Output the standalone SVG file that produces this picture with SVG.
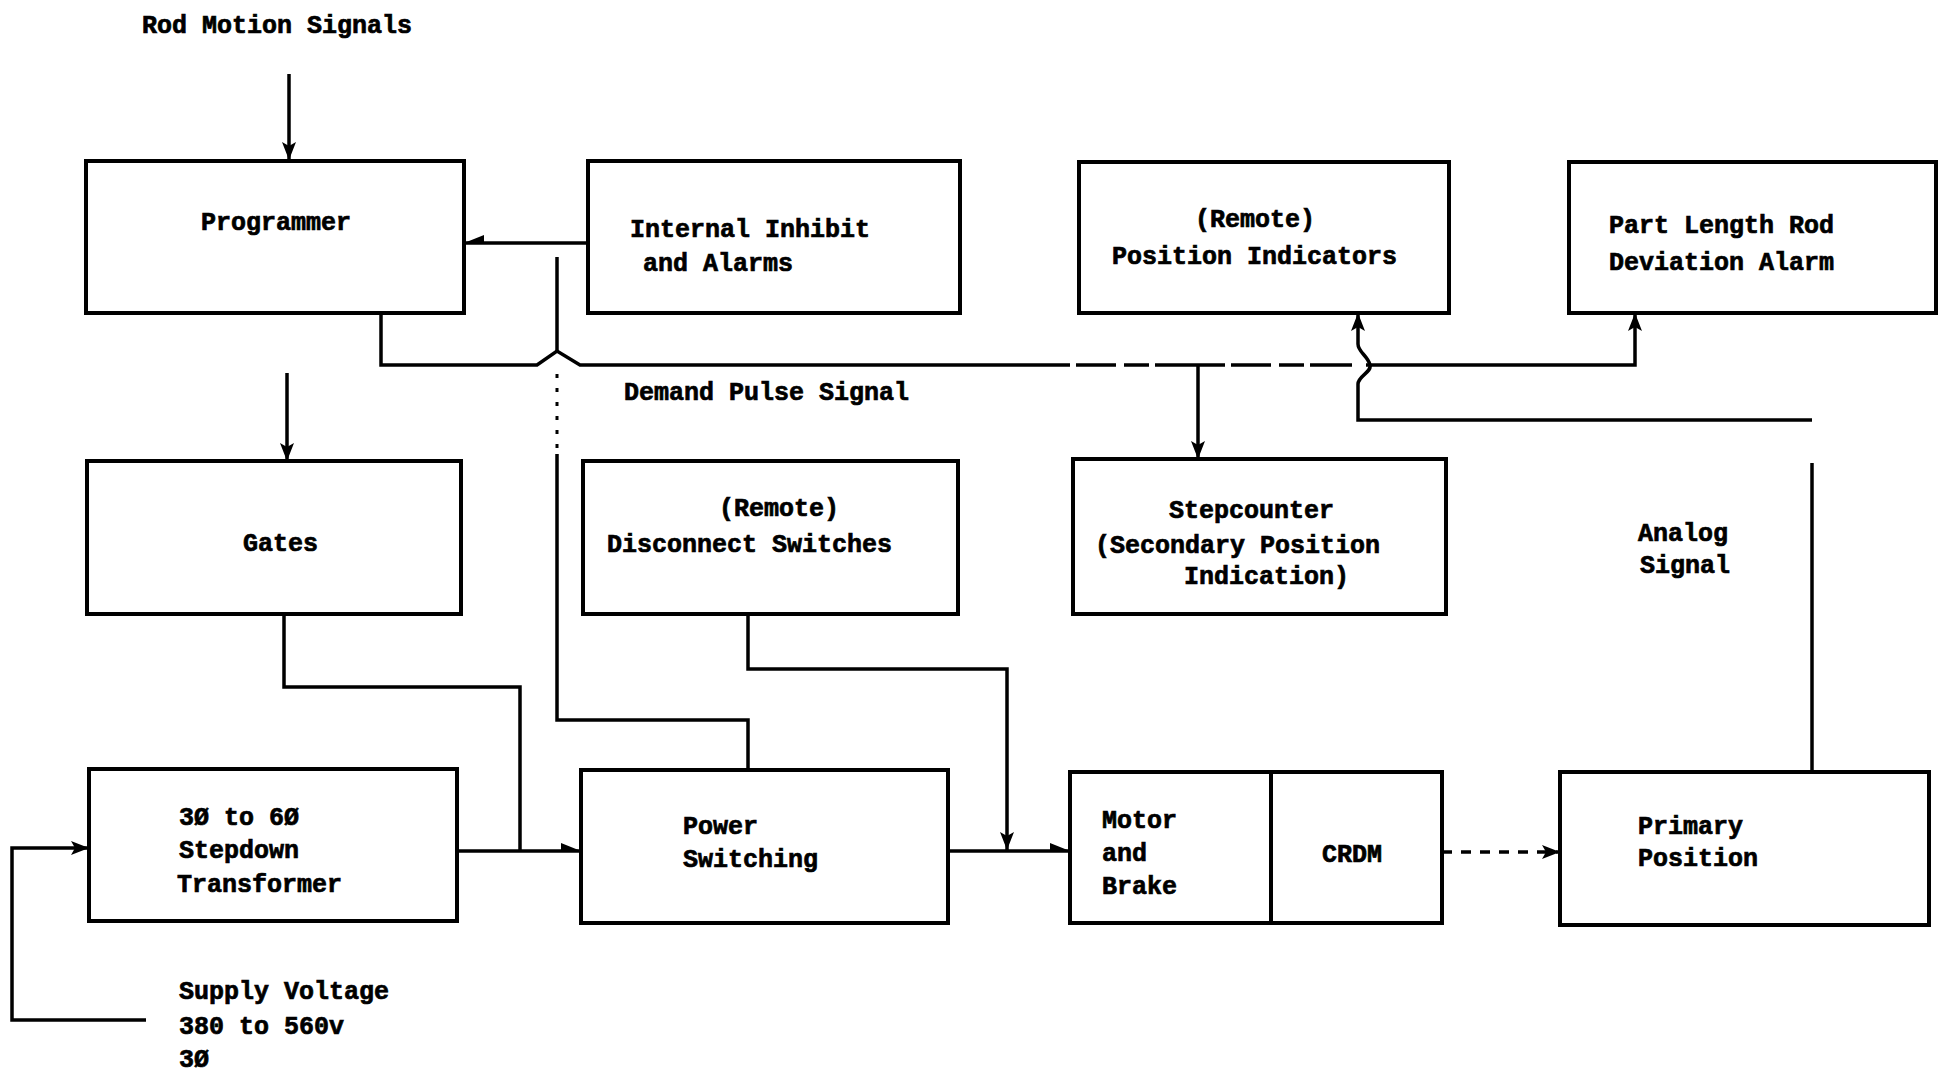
<svg xmlns="http://www.w3.org/2000/svg" width="1938" height="1072" viewBox="0 0 1938 1072">
<style>
  .box { fill: none; stroke: #000; stroke-width: 4; }
  .ln { fill: none; stroke: #000; stroke-width: 3.5; stroke-linejoin: miter; }
  .dash { fill: none; stroke: #000; stroke-width: 3.5; stroke-dasharray: 10 9; }
  .busdash { fill: none; stroke: #000; stroke-width: 3.5; stroke-dasharray: 70 6 40 8 25 6; }
  .dot { fill: none; stroke: #000; stroke-width: 3; stroke-dasharray: 4 10; }
  text { font-family: "Liberation Mono", "DejaVu Sans Mono", monospace; font-weight: bold; font-size: 25px; fill: #000; stroke: #000; stroke-width: 0.7; }
</style>
<defs>
  <marker id="arr" viewBox="0 0 18 14" refX="18" refY="7" markerWidth="18" markerHeight="14" markerUnits="userSpaceOnUse" orient="auto">
    <path d="M0,0 L18,7 L0,14 L4,7 z" fill="#000"/>
  </marker>
  <marker id="halfR" viewBox="0 0 20 12" refX="20" refY="8" markerWidth="20" markerHeight="12" markerUnits="userSpaceOnUse" orient="0">
    <path d="M0,0 L20,8 L0,8 z" fill="#000"/>
  </marker>
  <marker id="halfL" viewBox="0 0 20 12" refX="0" refY="8" markerWidth="20" markerHeight="12" markerUnits="userSpaceOnUse" orient="0">
    <path d="M20,0 L0,8 L20,8 z" fill="#000"/>
  </marker>
</defs>
<rect width="1938" height="1072" fill="#fff"/>

<text x="142" y="33">Rod Motion Signals</text>
<text x="624" y="400">Demand Pulse Signal</text>
<text x="1638" y="541">Analog</text>
<text x="1640" y="573">Signal</text>
<text x="179" y="999">Supply Voltage</text>
<text x="179" y="1034">380 to 560v</text>
<text x="179" y="1067">3Ø</text>

<g id="programmer">
  <rect class="box" x="86" y="161" width="378" height="152"/>
  <text x="201" y="230">Programmer</text>
</g>
<g id="internal-inhibit">
  <rect class="box" x="588" y="161" width="372" height="152"/>
  <text x="630" y="237">Internal Inhibit</text>
  <text x="643" y="271">and Alarms</text>
</g>
<g id="position-indicators">
  <rect class="box" x="1079" y="162" width="370" height="151"/>
  <text x="1195" y="227">(Remote)</text>
  <text x="1112" y="264">Position Indicators</text>
</g>
<g id="part-length-alarm">
  <rect class="box" x="1569" y="162" width="367" height="151"/>
  <text x="1609" y="233">Part Length Rod</text>
  <text x="1609" y="270">Deviation Alarm</text>
</g>
<g id="gates">
  <rect class="box" x="87" y="461" width="374" height="153"/>
  <text x="243" y="551">Gates</text>
</g>
<g id="disconnect-switches">
  <rect class="box" x="583" y="461" width="375" height="153"/>
  <text x="719" y="516">(Remote)</text>
  <text x="607" y="552">Disconnect Switches</text>
</g>
<g id="stepcounter">
  <rect class="box" x="1073" y="459" width="373" height="155"/>
  <text x="1169" y="518">Stepcounter</text>
  <text x="1095" y="553">(Secondary Position</text>
  <text x="1184" y="584">Indication)</text>
</g>
<g id="transformer">
  <rect class="box" x="89" y="769" width="368" height="152"/>
  <text x="179" y="825">3Ø to 6Ø</text>
  <text x="179" y="858">Stepdown</text>
  <text x="177" y="892">Transformer</text>
</g>
<g id="power-switching">
  <rect class="box" x="581" y="770" width="367" height="153"/>
  <text x="683" y="834">Power</text>
  <text x="683" y="867">Switching</text>
</g>
<g id="motor-crdm">
  <rect class="box" x="1070" y="772" width="372" height="151"/>
  <line class="box" x1="1271" y1="772" x2="1271" y2="923"/>
  <text x="1102" y="828">Motor</text>
  <text x="1102" y="861">and</text>
  <text x="1102" y="894">Brake</text>
  <text x="1322" y="862">CRDM</text>
</g>
<g id="primary-position">
  <rect class="box" x="1560" y="772" width="369" height="153"/>
  <text x="1638" y="834">Primary</text>
  <text x="1638" y="866">Position</text>
</g>

<g id="connectors">
  <path class="ln" d="M289 74 V160" marker-end="url(#arr)"/>
  <path class="ln" d="M588 243 H464" marker-end="url(#halfL)"/>
  <path class="ln" d="M381 313 V365 H537 L557 351 L580 365 H1000"/>
  <path class="busdash" d="M1000 365 H1352"/>
  <path class="ln" d="M1366 365 H1635 V313" marker-end="url(#arr)"/>
  <path class="ln" d="M1198 365 V459" marker-end="url(#arr)"/>
  <path class="ln" d="M1812 772 V463"/>
  <path class="ln" d="M1812 420 H1358 V384 C1358 376 1372 372 1370 365 C1368 356 1358 352 1358 344 V313" marker-end="url(#arr)"/>
  <path class="ln" d="M557 257 V351"/>
  <path class="dot" d="M557 374 V452"/>
  <path class="ln" d="M557 454 V720 H748 V770"/>
  <path class="ln" d="M287 373 V461" marker-end="url(#arr)"/>
  <path class="ln" d="M284 614 V687 H520 V851"/>
  <path class="ln" d="M457 851 H581" marker-end="url(#halfR)"/>
  <path class="ln" d="M146 1020 H12 V848 H89" marker-end="url(#arr)"/>
  <path class="ln" d="M748 614 V669 H1007 V850" marker-end="url(#arr)"/>
  <path class="ln" d="M948 851 H1070" marker-end="url(#halfR)"/>
  <path class="dash" d="M1442 852 H1560" marker-end="url(#arr)"/>
</g>
</svg>
